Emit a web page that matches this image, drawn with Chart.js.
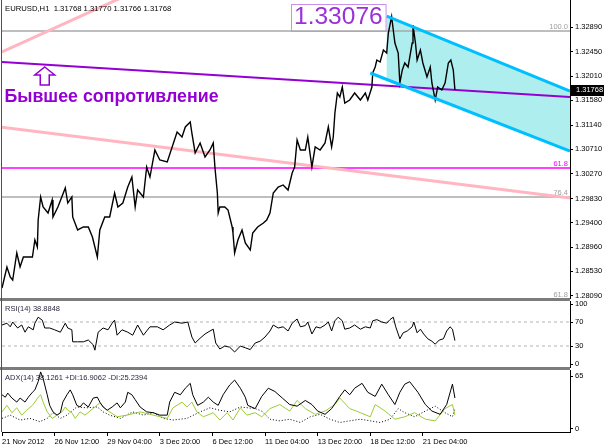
<!DOCTYPE html>
<html><head><meta charset="utf-8">
<script src="https://cdn.jsdelivr.net/npm/chart.js@4.4.0/dist/chart.umd.min.js"></script>
<style>
html,body{margin:0;padding:0;background:#fff;}
#wrap{position:relative;width:604px;height:447px;overflow:hidden;background:#fff;}
canvas{position:absolute;left:0;top:0;}
</style></head><body>
<div id="wrap">
<canvas id="cMain" width="604" height="447"></canvas>
<canvas id="cRsi" width="604" height="447"></canvas>
<canvas id="cAdx" width="604" height="447"></canvas>
</div>
<script>
// ---------- DATA ----------
const symbolTitle = 'EURUSD,H1  1.31768 1.31770 1.31766 1.31768';
const xTickBars = [0, 64, 128, 192, 256, 320, 384, 448, 512];
const xTickLabels = ['21 Nov 2012', '26 Nov 12:00', '29 Nov 04:00', '3 Dec 20:00', '6 Dec 12:00', '11 Dec 04:00', '13 Dec 20:00', '18 Dec 12:00', '21 Dec 04:00'];
const xMaxBar = 691;
const priceTicks = [1.28090, 1.28530, 1.28960, 1.29400, 1.29830, 1.30270, 1.30710, 1.31140, 1.31580, 1.32010, 1.32450, 1.32890];
const priceMin = 1.28054, priceMax = 1.33372;
const lastClose = 1.31768;

const priceBars = [0,6,10,13,18,22,26,30,37,40,43,44,47,50,56,61,62,68,77,80,85,86,92,99,105,110,113,116,119,125,131,137,141,147,153,158,162,165,172,176,180,186,192,201,207,213,219,223,229,231,235,241,247,253,257,259,262,263,265,271,275,280,281,283,287,292,296,302,305,311,318,322,326,330,336,342,348,353,356,359,363,369,372,377,381,387,393,397,401,403,405,408,411,414,417,423,429,436,442,445,450,451,454,456,460,464,468,470,474,476,478,482,484,487,490,494,499,500,503,505,509,512,517,521,523,527,530,535,539,543,546,549,551];
const priceClose = [1.28233,1.28607,1.28429,1.28375,1.28857,1.28607,1.28786,1.28786,1.28786,1.29089,1.28964,1.29446,1.29857,1.29678,1.29571,1.29803,1.29500,1.29678,1.30017,1.29749,1.29857,1.29500,1.29268,1.29321,1.29321,1.29143,1.28964,1.28786,1.29268,1.29500,1.29500,1.29928,1.29678,1.29749,1.30035,1.30213,1.29678,1.29981,1.29857,1.30392,1.30213,1.30695,1.30517,1.30481,1.30749,1.31016,1.30927,1.31106,1.31195,1.30998,1.30642,1.30820,1.30570,1.30695,1.30820,1.30392,1.29928,1.29571,1.29678,1.29678,1.29624,1.29321,1.29214,1.28857,1.29089,1.29268,1.29036,1.28911,1.29214,1.29321,1.29393,1.29446,1.29571,1.29928,1.30035,1.30071,1.29981,1.30285,1.30392,1.30874,1.30695,1.30695,1.30927,1.30392,1.30749,1.30695,1.30820,1.31106,1.30749,1.30927,1.31355,1.31712,1.31641,1.31819,1.31534,1.31587,1.31712,1.31587,1.31712,1.31587,1.31819,1.32069,1.32176,1.32301,1.32265,1.32480,1.32426,1.32783,1.33076,1.32836,1.32604,1.32426,1.31891,1.32123,1.32248,1.32176,1.32604,1.32926,1.32604,1.32301,1.32480,1.32248,1.31998,1.32176,1.31891,1.31587,1.31819,1.31766,1.31891,1.32248,1.32301,1.32123,1.31768];

// trend lines / channel (bar, price endpoints)
const pink1Bars = [0, 160], pink1Prices = [1.32444, 1.33511];
const pink2Bars = [0, 691], pink2Prices = [1.31101, 1.29839];
const purpleBars = [0, 691], purplePrices = [1.32265, 1.31640];
const chanUpperBars = [468, 691], chanUpperPrices = [1.33086, 1.31748];
const chanLowerBars = [448, 691], chanLowerPrices = [1.32069, 1.30677];
const chanFillBars = [468, 691, 691, 468], chanFillPrices = [1.33086, 1.31748, 1.30677, 1.31951];

// Fibonacci levels
const fibPrices = [1.32819, 1.30374, 1.29857, 1.28036];
const fibLabels = ['100.0', '61.8', '76.4', '61.8'];
const fibColors = ['#A0A0A0', '#FF00FF', '#A0A0A0', '#A0A0A0'];

// annotations
const noteText = 'Бывшее сопротивление';
const noteBar = 3, notePrice = 1.31552;
const arrowBar = 52, arrowPrice = 1.32176;
const peakLabel = '1.33076';
const peakBar = 474, peakPrice = 1.33076;

// RSI(14)
const rsiLabel = 'RSI(14) 38.8848';
const rsiTicks = [0, 30, 70, 100];
const rsiLevels = [30, 70];
const rsiBars = [0,6,10,13,19,24,28,32,38,40,44,49,52,58,64,71,77,80,85,86,92,99,105,111,113,117,123,129,134,137,140,146,153,159,165,172,180,189,196,204,210,219,226,231,235,241,247,253,257,260,265,271,277,283,290,296,302,308,314,320,326,330,336,342,348,353,359,363,369,372,377,382,387,393,397,401,405,409,414,417,423,429,436,442,448,451,456,462,468,472,476,479,484,488,493,499,501,505,509,513,518,523,527,532,537,541,545,548,551];
const rsiValues = [65,68,62,70,60,65,53,62,57,68,78,73,60,60,57,53,68,60,57,37,37,37,40,32,23,53,60,57,68,73,48,57,53,48,65,48,62,62,57,65,70,68,70,45,35,43,50,55,58,35,25,30,28,20,30,27,24,35,38,45,55,65,60,62,55,68,75,62,64,70,50,62,60,65,70,55,72,78,72,58,60,65,58,62,60,72,74,70,68,74,78,62,42,52,55,62,70,52,58,50,42,38,33,40,42,55,62,58,39];

// ADX(14)
const adxLabel = 'ADX(14) 38.1261 +DI:16.9062 -DI:25.2394';
const adxTicks = [0, 65];
const adxBars = [0,4,7,12,18,22,28,32,37,40,44,47,50,55,58,62,67,71,74,79,83,86,91,95,99,105,111,116,119,123,128,134,140,144,150,153,158,162,168,176,184,192,201,204,210,217,223,229,232,238,245,251,257,263,269,277,283,290,296,299,308,316,324,332,341,350,359,369,377,384,393,401,411,417,423,429,438,445,454,462,470,478,484,490,496,506,515,523,533,541,548,551];
const adxValues = [42,39,44,38,33,38,33,39,45,48,58,70,62,42,29,21,17,20,33,42,48,42,29,27,32,27,38,39,33,27,23,27,32,26,33,45,42,36,27,21,20,17,17,33,45,42,50,56,42,29,33,39,33,29,42,54,60,50,39,29,25,40,50,46,38,30,28,35,30,22,18,25,40,48,42,50,56,45,40,55,42,30,45,55,58,45,30,22,18,30,55,38];
const pdiBars = [0,6,12,18,24,30,37,40,44,47,50,55,61,67,73,77,80,85,89,95,101,119,128,140,152,168,184,201,208,219,225,231,237,245,257,265,274,281,290,298,308,316,326,338,350,359,369,381,393,405,411,423,436,448,454,466,478,490,502,515,527,539,548,551];
const pdiValues = [21,29,20,26,17,23,29,33,39,42,33,21,13,17,21,27,23,20,13,21,17,32,23,15,17,21,17,13,26,33,27,33,21,15,20,11,20,11,26,17,20,15,25,30,22,35,25,18,22,30,38,25,20,15,30,22,12,15,20,12,10,25,30,17];
const mdiBars = [0,10,22,34,46,55,62,71,79,91,103,116,123,131,144,159,172,184,196,208,225,241,253,265,277,290,299,308,316,326,338,350,363,375,387,399,411,423,436,448,460,472,482,490,502,515,527,539,548,551];
const mdiValues = [13,17,11,13,9,13,20,13,17,27,26,27,21,17,13,21,17,20,13,11,13,21,26,23,21,27,26,25,22,12,10,12,8,15,18,12,8,10,12,10,8,12,25,20,15,22,28,20,15,25];

// ---------- HELPERS ----------
const FONT = "'Liberation Sans', Arial, sans-serif";
const pts = (xs, ys) => xs.map((x, i) => ({x: x, y: ys[i]}));
const hline = v => [{x: 0, y: v}, {x: xMaxBar, y: v}];
const lineDs = (data, color, width, order, extra) => Object.assign({
  data: data, borderColor: color, borderWidth: width, pointRadius: 0, tension: 0, fill: false, order: order
}, extra || {});

function yAxis(min, max, tickVals, fmt) {
  return {
    position: 'right', min: min, max: max,
    afterBuildTicks: s => { s.ticks = tickVals.map(v => ({value: v})); },
    afterFit: s => { s.width = 34; s.paddingTop = 0; s.paddingBottom = 0; },
    ticks: {autoSkip: false, font: {family: FONT, size: 7.5}, color: '#000', padding: 2, callback: fmt},
    grid: {drawOnChartArea: false, tickLength: 3, color: '#000'},
    border: {color: '#000', width: 1}
  };
}
const hiddenX = {type: 'linear', min: 0, max: xMaxBar, display: false};
const baseOptions = (padTop, padBottom) => ({
  responsive: false, animation: false, devicePixelRatio: 1, events: [],
  layout: {padding: {left: 2, right: 0, top: padTop, bottom: padBottom}},
  plugins: {legend: {display: false}, tooltip: {enabled: false}},
  elements: {point: {radius: 0}, line: {tension: 0}}
});

// ---------- MAIN PRICE PANEL ----------
const mainAnno = {
  id: 'mainAnno',
  afterDatasetsDraw(chart) {
    const ctx = chart.ctx, xs = chart.scales.x, ys = chart.scales.y, ca = chart.chartArea;
    ctx.save();
    // fib labels
    ctx.font = '7.5px ' + FONT; ctx.textAlign = 'right'; ctx.textBaseline = 'alphabetic';
    fibPrices.forEach((p, i) => {
      ctx.fillStyle = fibColors[i];
      ctx.fillText(fibLabels[i], ca.right - 2, ys.getPixelForValue(p) - 2);
    });
    // note text
    ctx.fillStyle = '#9400D3'; ctx.textAlign = 'left';
    ctx.font = 'bold 17.8px ' + FONT;
    ctx.fillText(noteText, xs.getPixelForValue(noteBar), ys.getPixelForValue(notePrice));
    // hollow arrow
    const ax = xs.getPixelForValue(arrowBar), ay = ys.getPixelForValue(arrowPrice);
    ctx.strokeStyle = '#9400D3'; ctx.lineWidth = 1.5;
    ctx.beginPath();
    ctx.moveTo(ax, ay); ctx.lineTo(ax + 10, ay + 8); ctx.lineTo(ax + 4.5, ay + 8); ctx.lineTo(ax + 4.5, ay + 18);
    ctx.lineTo(ax - 4.5, ay + 18); ctx.lineTo(ax - 4.5, ay + 8); ctx.lineTo(ax - 10, ay + 8); ctx.closePath();
    ctx.stroke();
    // peak price label
    const px = xs.getPixelForValue(peakBar), py = ys.getPixelForValue(peakPrice);
    ctx.font = '24.5px ' + FONT; ctx.textAlign = 'right'; ctx.textBaseline = 'middle';
    ctx.fillStyle = '#9B30D9';
    ctx.fillText(peakLabel, px - 9, py + 1);
    const w = ctx.measureText(peakLabel).width;
    ctx.strokeStyle = '#C890EC'; ctx.lineWidth = 1;
    ctx.strokeRect(Math.round(px - 12 - w) + 0.5, Math.round(py - 12.5) + 0.5, w + 6, 27);
    // title
    ctx.font = '7.7px ' + FONT; ctx.textAlign = 'left'; ctx.textBaseline = 'alphabetic'; ctx.fillStyle = '#000';
    ctx.fillText(symbolTitle, 5, 10.5);
    // last price box
    const ly = ys.getPixelForValue(lastClose);
    ctx.fillStyle = '#000'; ctx.fillRect(ca.right + 1, Math.round(ly) - 5, 33, 11);
    ctx.fillStyle = '#fff'; ctx.font = '7.5px ' + FONT; ctx.textBaseline = 'middle';
    ctx.fillText(lastClose.toFixed(5), ca.right + 6, ly + 0.5);
    ctx.restore();
  }
};

new Chart(document.getElementById('cMain'), {
  type: 'line',
  data: {datasets: [
    lineDs(pts(chanUpperBars, chanUpperPrices), '#00BFFF', 3, 0),
    lineDs(pts(chanLowerBars, chanLowerPrices), '#00BFFF', 3, 0),
    lineDs(pts(priceBars, priceClose), '#000', 1.4, 1),
    lineDs(pts(purpleBars, purplePrices), '#9400D3', 2, 2),
    lineDs(pts(pink1Bars, pink1Prices), '#FFB6C1', 3, 3),
    lineDs(pts(pink2Bars, pink2Prices), '#FFB6C1', 3, 3),
    lineDs(hline(fibPrices[0]), '#A8A8A8', 1.5, 4),
    lineDs(hline(fibPrices[1]), '#FF00FF', 1.5, 4),
    lineDs(hline(fibPrices[2]), '#A8A8A8', 1.5, 4),
    lineDs(pts(chanFillBars, chanFillPrices), 'rgba(0,0,0,0)', 0, 5, {fill: 'shape', backgroundColor: '#AFEEEE'})
  ]},
  options: Object.assign(baseOptions(0, 149), {
    scales: {x: hiddenX, y: yAxis(priceMin, priceMax, priceTicks, v => Number(v).toFixed(5))}
  }),
  plugins: [mainAnno]
});

// ---------- RSI PANEL ----------
const rsiAnno = {
  id: 'rsiAnno',
  afterDatasetsDraw(chart) {
    const ctx = chart.ctx, ca = chart.chartArea;
    ctx.save();
    ctx.font = '7.5px ' + FONT; ctx.fillStyle = '#2a2a40'; ctx.textAlign = 'left'; ctx.textBaseline = 'alphabetic';
    ctx.fillText(rsiLabel, 5, ca.top + 10);
    ctx.restore();
  }
};
new Chart(document.getElementById('cRsi'), {
  type: 'line',
  data: {datasets: [
    lineDs(pts(rsiBars, rsiValues), '#000', 1, 0),
    lineDs(hline(rsiLevels[0]), '#B4B4B4', 1, 1, {borderDash: [3, 3]}),
    lineDs(hline(rsiLevels[1]), '#B4B4B4', 1, 1, {borderDash: [3, 3]})
  ]},
  options: Object.assign(baseOptions(301, 80), {
    scales: {x: hiddenX, y: yAxis(-5, 105, rsiTicks, v => String(v))}
  }),
  plugins: [rsiAnno]
});

// ---------- ADX PANEL ----------
const adxAnno = {
  id: 'adxAnno',
  afterDatasetsDraw(chart) {
    const ctx = chart.ctx, ca = chart.chartArea;
    ctx.save();
    ctx.font = '7.5px ' + FONT; ctx.fillStyle = '#2a2a40'; ctx.textAlign = 'left'; ctx.textBaseline = 'alphabetic';
    ctx.fillText(adxLabel, 5, ca.top + 10);
    // frame: left border and panel separators
    ctx.fillStyle = '#7c7c7c';
    ctx.fillRect(0, 298, ca.right, 3);
    ctx.fillRect(0, 367, ca.right, 3);
    ctx.fillStyle = '#505050';
    ctx.fillRect(1, 0, 1, ca.bottom);
    ctx.restore();
  }
};
new Chart(document.getElementById('cAdx'), {
  type: 'line',
  data: {datasets: [
    lineDs(pts(adxBars, adxValues), '#000', 1, 0),
    lineDs(pts(pdiBars, pdiValues), '#9ACD32', 1, 1),
    lineDs(pts(mdiBars, mdiValues), '#000', 1, 2, {borderDash: [1, 2]})
  ]},
  options: Object.assign(baseOptions(370, 0), {
    scales: {
      x: {
        type: 'linear', min: 0, max: xMaxBar,
        afterBuildTicks: s => { s.ticks = xTickBars.map(v => ({value: v})); },
        afterFit: s => { s.height = 15; s.paddingLeft = 0; s.paddingRight = 0; },
        ticks: {autoSkip: false, maxRotation: 0, minRotation: 0, align: 'start', padding: 1,
          font: {family: FONT, size: 7.5}, color: '#000', callback: (v, i) => xTickLabels[i]},
        grid: {drawOnChartArea: false, tickLength: 4, color: '#000'},
        border: {color: '#000', width: 1}
      },
      y: yAxis(-3.68, 72.36, adxTicks, v => String(v))
    }
  }),
  plugins: [adxAnno]
});
</script>
</body></html>
